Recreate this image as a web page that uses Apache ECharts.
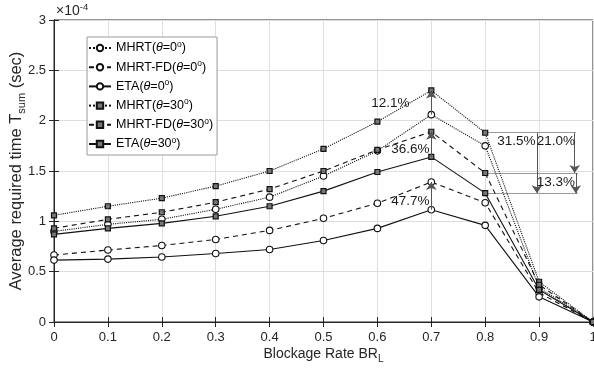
<!DOCTYPE html>
<html>
<head>
<meta charset="utf-8">
<script src="https://cdn.jsdelivr.net/npm/echarts@6/dist/echarts.min.js"></script>
<style>html,body{margin:0;padding:0;background:#fff}#c{width:594px;height:370px}</style>
</head>
<body>
<div id="c"></div>
<script>
// ---- data (values in units of 1e-4 s) ----
var blockage = [0, 0.1, 0.2, 0.3, 0.4, 0.5, 0.6, 0.7, 0.8, 0.9, 1.0];
var mhrt0    = [0.90, 0.97, 1.02, 1.12, 1.24, 1.45, 1.70, 2.06, 1.75, 0.34, 0];
var mhrtfd0  = [0.665, 0.715, 0.76, 0.82, 0.91, 1.03, 1.18, 1.39, 1.185, 0.29, 0];
var eta0     = [0.615, 0.625, 0.645, 0.68, 0.72, 0.81, 0.93, 1.115, 0.96, 0.25, 0];
var mhrt30   = [1.06, 1.15, 1.23, 1.35, 1.50, 1.72, 1.99, 2.30, 1.88, 0.40, 0];
var mhrtfd30 = [0.93, 1.02, 1.09, 1.19, 1.32, 1.50, 1.71, 1.89, 1.48, 0.37, 0];
var eta30    = [0.87, 0.93, 0.98, 1.05, 1.15, 1.30, 1.49, 1.64, 1.28, 0.32, 0];
var yTicks = ['0', '0.5', '1', '1.5', '2', '2.5', '3'];
var seriesNames = ['MHRT(θ=0°)', 'MHRT-FD(θ=0°)', 'ETA(θ=0°)', 'MHRT(θ=30°)', 'MHRT-FD(θ=30°)', 'ETA(θ=30°)'];
// annotation arrows: [x, yFrom, yTo]
var arrowsUp = [
  [0.7, mhrt0[7], mhrt30[7]],
  [0.7, eta30[7], mhrtfd30[7]],
  [0.7, eta0[7], mhrtfd0[7]]
];
var arrowsDown = [
  [0.896, mhrt30[8], eta30[8]],
  [0.966, mhrt30[8], mhrtfd30[8]],
  [0.968, mhrtfd30[8], eta30[8]]
];
var guideLines = [
  [0.8, 0.968, mhrt30[8]],
  [0.8, 0.972, mhrtfd30[8]],
  [0.8, 0.972, eta30[8]]
];
var annoTexts = [
  [0.624, 2.17, '12.1%'],
  [0.661, 1.72, '36.6%'],
  [0.661, 1.195, '47.7%'],
  [0.858, 1.80, '31.5%'],
  [0.931, 1.80, '21.0%'],
  [0.931, 1.39, '13.3%']
];

var FONT = 'Arial, "Liberation Sans", Helvetica, sans-serif';
var TXT = '#262626';
function pairs(ys) { return blockage.map(function (x, i) { return [x, ys[i]]; }); }
var styles = [
  {d: mhrt0, t: 'dotted', s: 'circle'},
  {d: mhrtfd0, t: [5, 4], s: 'circle'},
  {d: eta0, t: 'solid', s: 'circle'},
  {d: mhrt30, t: 'dotted', s: 'rect'},
  {d: mhrtfd30, t: [5, 4], s: 'rect'},
  {d: eta30, t: 'solid', s: 'rect'}
];
var series = styles.map(function (st, i) {
  return {
    name: seriesNames[i], type: 'line', data: pairs(st.d),
    symbol: st.s, symbolSize: st.s === 'rect' ? 5 : 6.5, showSymbol: true,
    lineStyle: {color: '#111', width: 1.1, type: st.t},
    itemStyle: st.s === 'rect' ? {color: '#777', borderColor: '#111', borderWidth: 1.2} : {color: '#fff', borderColor: '#111', borderWidth: 1.1},
    z: 5, animation: false
  };
});
series.push({
  type: 'lines', coordinateSystem: 'cartesian2d', silent: true, animation: false,
  symbol: ['none', 'arrow'], symbolSize: [6, 8],
  lineStyle: {color: '#555', width: 1, opacity: 1},
  data: arrowsUp.map(function (a) { return {coords: [[a[0], a[1]], [a[0], a[2]]]}; })
    .concat(arrowsDown.map(function (a) { return {coords: [[a[0], a[1]], [a[0], a[2]]]}; })),
  z: 7
});
series.push({
  type: 'lines', coordinateSystem: 'cartesian2d', silent: true, animation: false,
  lineStyle: {color: '#9a9a9a', width: 1, opacity: 1},
  data: guideLines.map(function (g) { return {coords: [[g[0], g[2]], [g[1], g[2]]]}; }),
  z: 4
});
series.push({
  type: 'scatter', silent: true, animation: false, symbolSize: 0,
  itemStyle: {color: 'rgba(0,0,0,0)', opacity: 1},
  data: annoTexts.map(function (a) { return {value: [a[0], a[1]], name: a[2]}; }),
  label: {show: true, position: [0, 0], align: 'center', verticalAlign: 'middle', formatter: '{b}',
    color: '#1a1a1a', opacity: 1, fontSize: 13.5, fontFamily: FONT, textBorderWidth: 0},
  z: 8
});

var legendFmt = function (name) {
  var m = name.match(/^(.*)\(θ=(\d+)°\)$/);
  return m[1] + '({i|θ}=' + m[2] + '{s|o})';
};

var chart = echarts.init(document.getElementById('c'), null, {renderer: 'canvas'});
chart.setOption({
  animation: false,
  backgroundColor: '#fff',
  grid: {left: 54, right: 1, top: 20, bottom: 48, outerBoundsMode: 'none', containLabel: false,
    show: true, borderColor: TXT, borderWidth: 1, backgroundColor: 'transparent'},
  legend: {
    data: seriesNames, orient: 'vertical', left: 87, top: 37,
    backgroundColor: '#fff', borderColor: '#9a9a9a', borderWidth: 1,
    padding: [3, 4, 3, 1], itemGap: 3.2, itemWidth: 22, itemHeight: 8,
    formatter: legendFmt,
    textStyle: {color: '#000', fontSize: 12.5, fontFamily: FONT, lineHeight: 16,
      rich: {i: {fontStyle: 'italic', fontSize: 12.5, fontFamily: FONT, lineHeight: 16},
             s: {fontSize: 8.5, fontFamily: FONT, verticalAlign: 'top', lineHeight: 10}}}
  },
  xAxis: [{
    type: 'value', min: 0, max: 1, interval: 0.1,
    name: 'Blockage Rate BR{sub|L}', nameLocation: 'middle', nameGap: 22, nameMoveOverlap: false,
    nameTextStyle: {color: TXT, fontSize: 14, fontFamily: FONT,
      rich: {sub: {fontSize: 10, fontFamily: FONT, color: TXT, verticalAlign: 'bottom', padding: [10, 0, 0, 0]}}},
    axisLine: {show: true, lineStyle: {color: TXT}},
    axisTick: {show: true, inside: true, length: 5, lineStyle: {color: TXT}},
    axisLabel: {color: TXT, fontSize: 13, fontFamily: FONT, margin: 9, formatter: function (v) { return String(+v.toFixed(1)); }},
    splitLine: {show: true, lineStyle: {color: '#dedede', width: 1}}
  }, {
    type: 'value', min: 0, max: 1, interval: 0.1, position: 'top',
    axisLine: {show: true, lineStyle: {color: TXT}},
    axisTick: {show: true, inside: true, length: 5, lineStyle: {color: TXT}},
    axisLabel: {show: false}, splitLine: {show: false}
  }],
  yAxis: [{
    type: 'value', min: 0, max: 3, interval: 0.5,
    name: 'Average required time T{sub|sum} (sec)', nameLocation: 'middle', nameGap: 27, nameRotate: 90,
    nameMoveOverlap: false,
    nameTextStyle: {color: TXT, fontSize: 16.5, fontFamily: FONT,
      rich: {sub: {fontSize: 11, fontFamily: FONT, color: TXT, verticalAlign: 'bottom', padding: [11, 0, 0, 0]}}},
    axisLine: {show: true, lineStyle: {color: TXT}},
    axisTick: {show: true, inside: true, length: 5, lineStyle: {color: TXT}},
    axisLabel: {color: TXT, fontSize: 13, fontFamily: FONT, margin: 8, formatter: function (v, i) { return yTicks[i]; }},
    splitLine: {show: true, lineStyle: {color: '#dedede', width: 1}}
  }, {
    type: 'value', min: 0, max: 3, interval: 0.5, position: 'right',
    axisLine: {show: true, lineStyle: {color: TXT}},
    axisTick: {show: true, inside: true, length: 5, lineStyle: {color: TXT}},
    axisLabel: {show: false}, splitLine: {show: false}
  }],
  graphic: [{
    type: 'text', left: 56, top: 2,
    style: {text: '×10{s|-4}', fill: TXT, font: '14px ' + FONT,
      rich: {s: {fontSize: 9.5, fontFamily: FONT, fill: TXT, verticalAlign: 'top', padding: [0, 0, 8, 0]}}}
  }],
  series: series
});
</script>
</body>
</html>
